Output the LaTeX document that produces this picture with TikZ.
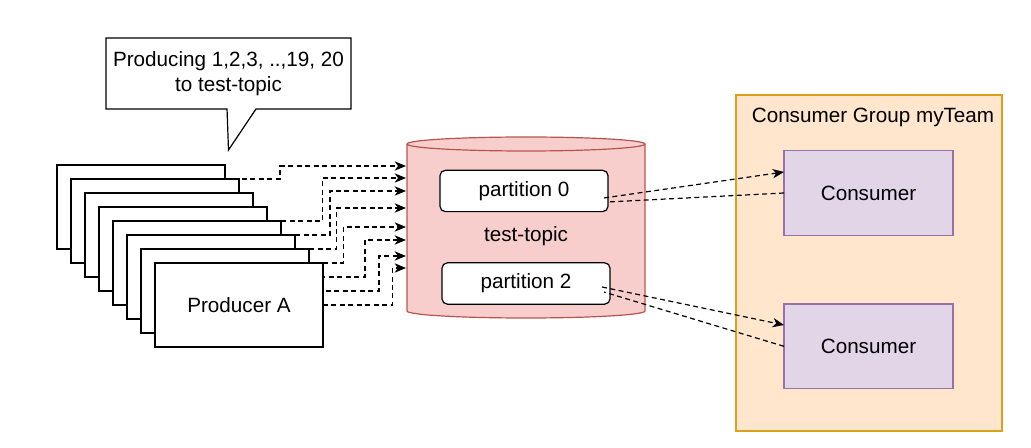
\documentclass[tikz,border=0pt]{standalone}
\usepackage{fontspec}
\setmainfont{Liberation Sans}
\usetikzlibrary{positioning,arrows.meta}

\definecolor{topicfill}{HTML}{F8CECC}
\definecolor{topicline}{HTML}{B85450}
\definecolor{groupfill}{HTML}{FFE6CC}
\definecolor{groupline}{HTML}{D9A21A}
\definecolor{consfill}{HTML}{E1D5E7}
\definecolor{consline}{HTML}{9673A6}

\pgfdeclarelayer{background}
\pgfsetlayers{background,main}

\begin{document}
\begin{tikzpicture}[x=0.75pt,y=-0.75pt,on grid,
      font=\fontsize{15.5}{18.75}\selectfont,inner sep=0pt,outer sep=0pt,
      box/.style={draw,line width=0.9pt},
      prodbox/.style={box,fill=white,minimum width=126pt,minimum height=63pt},
      partbox/.style={box,fill=white,rounded corners=4pt,minimum width=126pt,minimum height=31pt},
      consbox/.style={box,draw=consline,fill=consfill,minimum width=126.75pt,minimum height=63.4pt},
      groupbox/.style={box,draw=groupline,fill=groupfill,minimum width=199.5pt,minimum height=252pt},
      topicbox/.style={minimum width=178.5pt,minimum height=135.75pt},
      topicshape/.style={draw=topicline,fill=topicfill,line width=0.9pt},
      notebox/.style={align=center,minimum width=183.75pt,minimum height=53.25pt},
      flow/.style={-{Stealth[length=8.5pt,width=7pt,inset=2.5pt]},dash pattern=on 3.75pt off 2.6pt,line width=0.9pt},
      link/.style={dash pattern=on 3.75pt off 2.6pt,line width=0.9pt}]
      \useasboundingbox (0,0) rectangle (1031,448);

      % consumer group
      \node[groupbox] (group) at (869,263) {};
      \node (grouptitle) at (873,117) {Consumer Group myTeam};
      \node[consbox] (cons1) at (868.5,193) {Consumer};
      \node[consbox] (cons2) [below=115pt of cons1] {Consumer};

      % speech bubble
      \node[notebox] (note) at (228.5,73.5) {Producing 1,2,3, ..,19, 20\\to test-topic};
      \coordinate (tip) at ([yshift=-30.75pt]note.south);
      \draw[line width=0.9pt] (note.north west) -- (note.north east) -- (note.south east)
        -- ([xshift=20.6pt]note.south) -- (tip) -- ([xshift=-1.1pt]note.south)
        -- (note.south west) -- cycle;

      % producers
      \node[prodbox] (p0) at (141,207) {};
      \foreach \i [remember=\i as \j (initially 0)] in {1,...,6}
        \node[prodbox] (p\i) [below right=10.5pt and 10.5pt of p\j] {};
      \node[prodbox] (p7) [below right=10.5pt and 10.5pt of p6] {Producer A};

      % topic
      \node[topicbox] (topic) at (526,227.5) {};
      \path[topicshape] ([yshift=-5.25pt]topic.north west) -- ([yshift=5.25pt]topic.south west)
        arc[start angle=180,end angle=360,x radius=89.25pt,y radius=5.25pt]
        -- ([yshift=-5.25pt]topic.north east)
        arc[start angle=0,end angle=180,x radius=89.25pt,y radius=5.25pt] -- cycle;
      \draw[topicshape,fill=none] ([yshift=-5.25pt]topic.north west)
        arc[start angle=180,end angle=360,x radius=89.25pt,y radius=5.25pt];
      \node (topicname) at (526,236) {test-topic};
      \node[partbox] (part0) [above left=27.4pt and 1.5pt of topic] {partition 0};
      \node[partbox] (part2) [below=42pt of topic] {partition 2};

      \begin{pgfonlayer}{background}
        \foreach \i/\dx/\ty/\sy in {0/-94.5pt/166/21pt, 1/-62.5pt/178/0pt,
            2/-57pt/191/0pt, 3/-52pt/208/0pt, 4/-47pt/227/0pt,
            5/-30.75pt/240/0pt, 6/-20.25pt/256/0pt, 7/-10pt/268/0pt} {
          \coordinate (in\i) at (406,\ty);
          \draw[flow] ([yshift=\sy]p\i.east) -| ([xshift=\dx]in\i) -- (in\i);
        }
      \end{pgfonlayer}

      \draw[flow] ([xshift=-3pt,yshift=-5.25pt]part0.east) -- ([yshift=15.75pt]cons1.west);
      \draw[link] (cons1.west) -- ([yshift=-8.25pt]part0.east);
      \draw[flow] ([xshift=-6pt,yshift=-2.6pt]part2.east) -- ([yshift=16pt]cons2.west);
      \draw[link] (cons2.west) -- ([xshift=-4.5pt,yshift=-6.4pt]part2.east);
\end{tikzpicture}
\end{document}
